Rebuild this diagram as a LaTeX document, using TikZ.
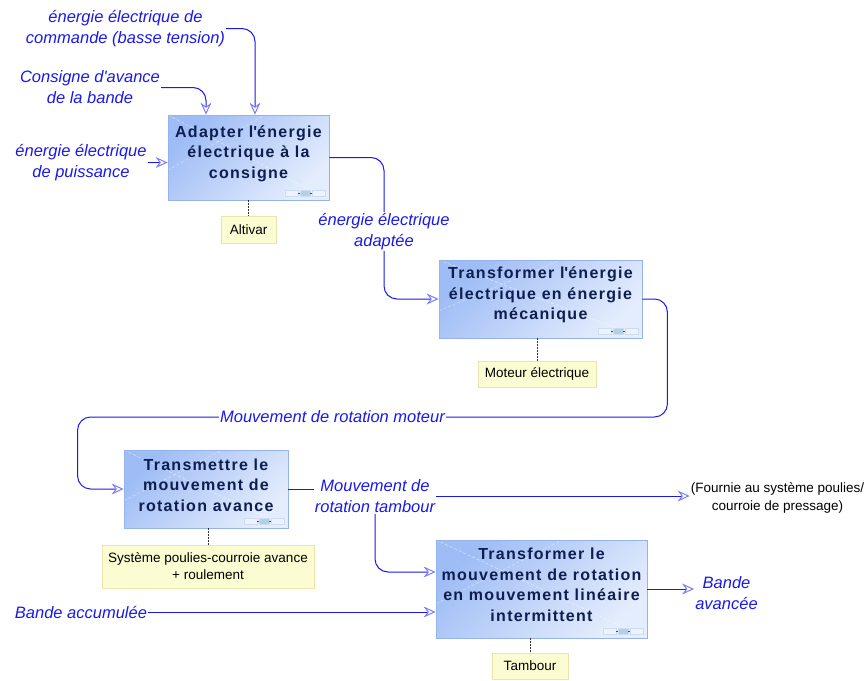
\documentclass[tikz,border=0pt]{standalone}
\usepackage{fontspec}
\setmainfont{Liberation Sans}
\newfontfamily\boxfont[LetterSpace=8]{Liberation Sans}
\usetikzlibrary{arrows.meta,calc}
\definecolor{lineblue}{RGB}{25,25,235}
\definecolor{tipblue}{RGB}{125,125,245}
\definecolor{boxtext}{RGB}{15,30,80}
\definecolor{boxborder}{RGB}{150,180,235}
\definecolor{boxA}{RGB}{158,188,245}
\definecolor{boxB}{RGB}{228,237,253}
\definecolor{notefill}{RGB}{252,252,210}
\definecolor{noteborder}{RGB}{232,228,170}
\definecolor{wdgA}{RGB}{236,243,252}
\definecolor{wdgB}{RGB}{178,210,228}
\definecolor{wdgC}{RGB}{205,220,242}
\begin{document}
\begin{tikzpicture}[x=1pt,y=-1pt,
  fbox/.style={draw=boxborder, line width=0.8pt, inner sep=0pt,
    left color=boxA, right color=boxB, shading angle=45,
    path picture={
      \draw[white,opacity=0.55,dash pattern=on 3pt off 2pt,line width=0.6pt]
        (path picture bounding box.north west) -- (path picture bounding box.south east);
      \draw[white,opacity=0.45,dash pattern=on 3pt off 2pt,line width=0.6pt]
        ($(path picture bounding box.south west)!0.35!(path picture bounding box.north west)$) -- ($(path picture bounding box.north west)!0.6!(path picture bounding box.north east)$);
      \draw[fill=wdgA,draw=wdgC,line width=0.5pt] ($(path picture bounding box.south east)+(-44,-10)$) rectangle +(13,6);
      \draw[fill=wdgB,draw=wdgC,line width=0.5pt] ($(path picture bounding box.south east)+(-29,-10)$) rectangle +(10,6);
      \draw[fill=wdgA,draw=wdgC,line width=0.5pt] ($(path picture bounding box.south east)+(-17,-10)$) rectangle +(13,6);
      \draw[black!70,line width=0.5pt] ($(path picture bounding box.south east)+(-31,-7)$) -- +(2,0);
      \draw[black!70,line width=0.5pt] ($(path picture bounding box.south east)+(-19,-7)$) -- +(2,0);
    }},
  boxtxt/.style={text=boxtext, align=center, inner sep=0pt, yshift=4pt,
    font=\boxfont\bfseries\fontsize{16}{20.5}\selectfont},
  note/.style={draw=noteborder, fill=notefill, line width=0.7pt, inner sep=0pt,
    align=center, font=\fontsize{13.5}{17}\selectfont},
  lab/.style={text=lineblue, align=center, inner sep=1pt,
    font=\itshape\fontsize{16.5}{21}\selectfont},
  plain/.style={align=center, inner sep=1pt, font=\fontsize{13.5}{18}\selectfont},
  flow/.style={draw=lineblue, line width=1pt, rounded corners=13pt,
    -{Stealth[open, length=12pt, width=11pt, inset=4pt, color=tipblue]}},
  flowline/.style={draw=lineblue, line width=1pt, rounded corners=13pt},
  dotline/.style={draw=black!80, line width=0.7pt, dash pattern=on 1.5pt off 1.5pt}
]
\useasboundingbox (0,0) rectangle (866,680);

% function boxes
\node[fbox, minimum width=161pt, minimum height=85pt,
  label={[boxtxt]center:{Adapter l\textquotesingle énergie\\électrique à la\\consigne}}] (b1) at (248.5,157.5) {};
\node[fbox, minimum width=203pt, minimum height=78pt,
  label={[boxtxt]center:{Transformer l\textquotesingle énergie\\électrique en énergie\\mécanique}}] (b2) at (540.5,299) {};
\node[fbox, minimum width=164pt, minimum height=78pt,
  label={[boxtxt]center:{Transmettre le\\mouvement de\\rotation avance}}] (b3) at (206,489) {};
\node[fbox, minimum width=211pt, minimum height=98pt,
  label={[boxtxt]center:{Transformer le\\mouvement de rotation\\en mouvement linéaire\\intermittent}}] (b4) at (541.5,589) {};

% notes
\node[note, minimum width=55pt, minimum height=27pt] (a1) at (248.5,229.5) {Altivar};
\node[note, minimum width=118pt, minimum height=26pt] (a2) at (537,374) {Moteur électrique};
\node[note, minimum width=212pt, minimum height=43pt] (a3) at (208,566.5) {Système poulies-courroie avance\\+ roulement};
\node[note, minimum width=76pt, minimum height=26pt] (a4) at (530,666) {Tambour};

\draw[dotline] (a1.north |- b1.south) -- (a1.north);
\draw[dotline] (a2.north |- b2.south) -- (a2.north);
\draw[dotline] (a3.north |- b3.south) -- (a3.north);
\draw[dotline] (a4.north |- b4.south) -- (a4.north);

% labels
\node[lab] (l1) at (125.5,28.5) {énergie électrique de\\commande (basse tension)};
\node[lab] (l2) at (90,87.5) {Consigne d\textquotesingle avance\\de la bande};
\node[lab] (l3) at (81,162.5) {énergie électrique\\de puissance};
\node[lab] (l4) at (384,231.5) {énergie électrique\\adaptée};
\node[lab] (l5) at (332.5,417) {Mouvement de rotation moteur};
\node[lab] (l6) at (375,496) {Mouvement de\\rotation tambour};
\node[plain] (l7) at (777.5,498) {(Fournie au système poulies/\\courroie de pressage)};
\node[lab] (l8) at (81,612) {Bande accumulée};
\node[lab] (l9) at (726.5,593) {Bande\\avancée};

% connectors
\draw[flow] (l1.east) -| ([xshift=6.5pt]b1.north);
\draw[flow] (l2.east) -| ([xshift=-42.5pt]b1.north);
\draw[flow] (l3.east) -- (l3.east -| b1.west);
\draw[flowline] (b1.east) -| (l4.north);
\draw[flow] (l4.south) |- (b2.west);
\draw[flowline] (b2.east) -- ++(25,0) |- (l5.east);
\draw[flow] (l5.west) -| ([xshift=-46pt]b3.west) -- (b3.west);
\draw[flowline] (b3.east) -- (b3.east -| l6.west);
\draw[flow] (l6.east) -- (l6.east -| l7.west);
\draw[flow] (l6.south) |- ([yshift=17pt]b4.west);
\draw[flow] (l8.east) -- (l8.east -| b4.west);
\draw[flow] (b4.east) -- (b4.east -| l9.west);
\end{tikzpicture}
\end{document}
